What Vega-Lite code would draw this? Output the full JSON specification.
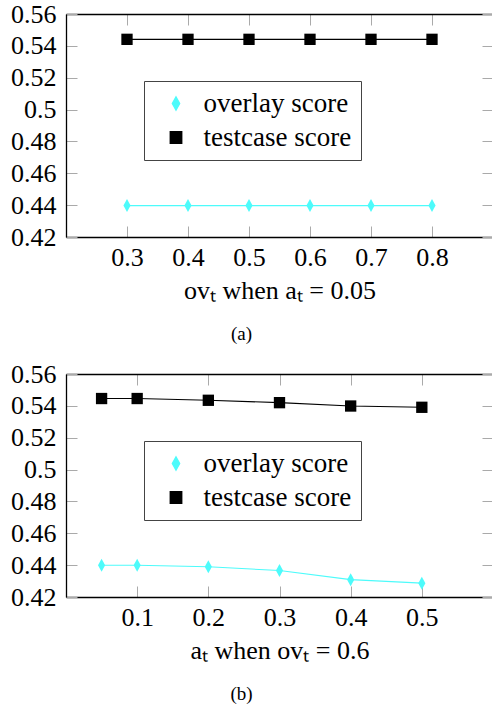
{
  "$schema": "https://vega.github.io/schema/vega-lite/v6.json",
  "padding": {"left": 10, "top": 1, "right": 0, "bottom": 0},
  "background": "white",
  "config": {
    "view": {"stroke": null},
    "font": "Liberation Serif",
    "axis": {
      "grid": false,
      "domainColor": "black",
      "domainWidth": 1.3,
      "tickColor": "#aaaaaa",
      "tickWidth": 1,
      "tickSize": -11,
      "labelFont": "Liberation Serif",
      "labelFontSize": 26,
      "labelColor": "black",
      "titleFont": "Liberation Serif",
      "titleFontSize": 26,
      "titleFontWeight": "normal",
      "titleColor": "black"
    },
    "legend": {
      "labelFont": "Liberation Serif",
      "labelFontSize": 27,
      "labelColor": "black"
    },
    "title": {"font": "Liberation Serif", "fontWeight": "normal", "color": "black"}
  },
  "datasets": {
    "a": [
      {"x": 0.3, "y": 0.4397, "series": "overlay score"},
      {"x": 0.4, "y": 0.4397, "series": "overlay score"},
      {"x": 0.5, "y": 0.4397, "series": "overlay score"},
      {"x": 0.6, "y": 0.4397, "series": "overlay score"},
      {"x": 0.7, "y": 0.4397, "series": "overlay score"},
      {"x": 0.8, "y": 0.4397, "series": "overlay score"},
      {"x": 0.3, "y": 0.5441, "series": "testcase score"},
      {"x": 0.4, "y": 0.5441, "series": "testcase score"},
      {"x": 0.5, "y": 0.5441, "series": "testcase score"},
      {"x": 0.6, "y": 0.5441, "series": "testcase score"},
      {"x": 0.7, "y": 0.5441, "series": "testcase score"},
      {"x": 0.8, "y": 0.5441, "series": "testcase score"}
    ],
    "b": [
      {"x": 0.05, "y": 0.4399, "series": "overlay score"},
      {"x": 0.1, "y": 0.4399, "series": "overlay score"},
      {"x": 0.2, "y": 0.4390, "series": "overlay score"},
      {"x": 0.3, "y": 0.4366, "series": "overlay score"},
      {"x": 0.4, "y": 0.4309, "series": "overlay score"},
      {"x": 0.5, "y": 0.4287, "series": "overlay score"},
      {"x": 0.05, "y": 0.5446, "series": "testcase score"},
      {"x": 0.1, "y": 0.5446, "series": "testcase score"},
      {"x": 0.2, "y": 0.5435, "series": "testcase score"},
      {"x": 0.3, "y": 0.5420, "series": "testcase score"},
      {"x": 0.4, "y": 0.5399, "series": "testcase score"},
      {"x": 0.5, "y": 0.5391, "series": "testcase score"}
    ]
  },
  "spacing": 17,
  "resolve": {"scale": {"color": "independent", "shape": "independent", "size": "independent"}, "legend": {"color": "independent"}},
  "vconcat": [
    {
      "width": 427,
      "height": 223,
      "data": {"name": "a"},
      "title": {"text": "(a)", "orient": "bottom", "fontSize": 19, "offset": 22, "dx": -38},
      "resolve": {"axis": {"x": "independent", "y": "independent"}},
      "layer": [
        {
          "mark": {"type": "line", "strokeWidth": 1.1},
          "encoding": {
            "x": {"field": "x", "type": "quantitative", "scale": {"domain": [0.2, 0.9], "nice": false, "zero": false},
              "axis": {"orient": "bottom", "values": [0.3, 0.4, 0.5, 0.6, 0.7, 0.8], "labelPadding": 18, "title": "ovₜ when aₜ = 0.05", "titlePadding": 7}},
            "y": {"field": "y", "type": "quantitative", "scale": {"domain": [0.42, 0.56], "nice": false, "zero": false},
              "axis": {"orient": "left", "values": [0.42, 0.44, 0.46, 0.48, 0.5, 0.52, 0.54, 0.56], "format": ".2~f", "labelPadding": 21, "title": null}},
            "color": {"field": "series", "type": "nominal",
              "scale": {"domain": ["overlay score", "testcase score"], "range": ["#4dfbfb", "black"]},
              "legend": {
                "orient": "none", "legendX": 78, "legendY": 67, "title": null,
                "padding": 9, "rowPadding": 6, "labelOffset": 14, "symbolOffset": 9.5,
                "strokeColor": "#444444", "fillColor": "white", "symbolOpacity": 1
              }}
          }
        },
        {
          "mark": {"type": "point", "filled": true, "opacity": 1},
          "encoding": {
            "x": {"field": "x", "type": "quantitative", "scale": {"domain": [0.2, 0.9], "nice": false, "zero": false},
              "axis": {"orient": "top", "values": [0.3, 0.4, 0.5, 0.6, 0.7, 0.8], "labels": false, "title": null}},
            "y": {"field": "y", "type": "quantitative", "scale": {"domain": [0.42, 0.56], "nice": false, "zero": false},
              "axis": {"orient": "right", "values": [0.42, 0.44, 0.46, 0.48, 0.5, 0.52, 0.54, 0.56], "labels": false, "domain": false, "title": null}},
            "color": {"field": "series", "type": "nominal",
              "scale": {"domain": ["overlay score", "testcase score"], "range": ["#4dfbfb", "black"]},
              "legend": {
                "orient": "none", "legendX": 78, "legendY": 67, "title": null,
                "padding": 9, "rowPadding": 6, "labelOffset": 14, "symbolOffset": 9.5,
                "strokeColor": "#444444", "fillColor": "white", "symbolOpacity": 1
              }},
            "shape": {"field": "series", "type": "nominal",
              "scale": {"domain": ["overlay score", "testcase score"], "range": ["M0,-1L0.55,0L0,1L-0.55,0Z", "square"]}, "legend": null},
            "size": {"field": "series", "type": "nominal",
              "scale": {"domain": ["overlay score", "testcase score"], "range": [169, 128]}, "legend": null}
          }
        }
      ]
    },
    {
      "width": 427,
      "height": 223,
      "data": {"name": "b"},
      "title": {"text": "(b)", "orient": "bottom", "fontSize": 19, "offset": 22, "dx": -38},
      "resolve": {"axis": {"x": "independent", "y": "independent"}},
      "layer": [
        {
          "mark": {"type": "line", "strokeWidth": 1.1},
          "encoding": {
            "x": {"field": "x", "type": "quantitative", "scale": {"domain": [0, 0.6], "nice": false, "zero": false},
              "axis": {"orient": "bottom", "values": [0.1, 0.2, 0.3, 0.4, 0.5], "labelPadding": 18, "title": "aₜ when ovₜ = 0.6", "titlePadding": 7}},
            "y": {"field": "y", "type": "quantitative", "scale": {"domain": [0.42, 0.56], "nice": false, "zero": false},
              "axis": {"orient": "left", "values": [0.42, 0.44, 0.46, 0.48, 0.5, 0.52, 0.54, 0.56], "format": ".2~f", "labelPadding": 21, "title": null}},
            "color": {"field": "series", "type": "nominal",
              "scale": {"domain": ["overlay score", "testcase score"], "range": ["#4dfbfb", "black"]},
              "legend": {
                "orient": "none", "legendX": 78, "legendY": 67, "title": null,
                "padding": 9, "rowPadding": 6, "labelOffset": 14, "symbolOffset": 9.5,
                "strokeColor": "#444444", "fillColor": "white", "symbolOpacity": 1
              }}
          }
        },
        {
          "mark": {"type": "point", "filled": true, "opacity": 1},
          "encoding": {
            "x": {"field": "x", "type": "quantitative", "scale": {"domain": [0, 0.6], "nice": false, "zero": false},
              "axis": {"orient": "top", "values": [0.1, 0.2, 0.3, 0.4, 0.5], "labels": false, "title": null}},
            "y": {"field": "y", "type": "quantitative", "scale": {"domain": [0.42, 0.56], "nice": false, "zero": false},
              "axis": {"orient": "right", "values": [0.42, 0.44, 0.46, 0.48, 0.5, 0.52, 0.54, 0.56], "labels": false, "domain": false, "title": null}},
            "color": {"field": "series", "type": "nominal",
              "scale": {"domain": ["overlay score", "testcase score"], "range": ["#4dfbfb", "black"]},
              "legend": {
                "orient": "none", "legendX": 78, "legendY": 67, "title": null,
                "padding": 9, "rowPadding": 6, "labelOffset": 14, "symbolOffset": 9.5,
                "strokeColor": "#444444", "fillColor": "white", "symbolOpacity": 1
              }},
            "shape": {"field": "series", "type": "nominal",
              "scale": {"domain": ["overlay score", "testcase score"], "range": ["M0,-1L0.55,0L0,1L-0.55,0Z", "square"]}, "legend": null},
            "size": {"field": "series", "type": "nominal",
              "scale": {"domain": ["overlay score", "testcase score"], "range": [169, 128]}, "legend": null}
          }
        }
      ]
    }
  ]
}
